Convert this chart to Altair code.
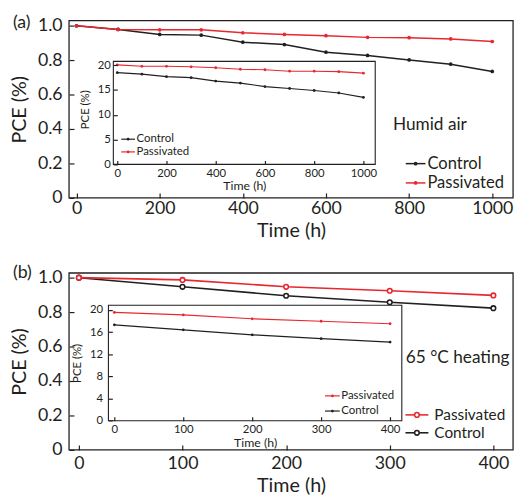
import altair as alt
import pandas as pd

# ---------------- data ----------------
series = ["Control", "Passivated"]
colors = ["#231f20", "#e8272e"]

a_time = [0, 100, 200, 300, 400, 500, 600, 700, 800, 900, 1000]
a_control = [1.0, 0.979, 0.950, 0.946, 0.905, 0.891, 0.847, 0.828, 0.802, 0.777, 0.735]
a_passivated = [1.0, 0.979, 0.977, 0.977, 0.960, 0.950, 0.943, 0.933, 0.931, 0.924, 0.909]
a_inset_control = [18.5, 18.2, 17.7, 17.5, 16.8, 16.4, 15.7, 15.3, 14.9, 14.4, 13.5]
a_inset_passivated = [20.1, 19.8, 19.8, 19.7, 19.5, 19.2, 19.1, 18.8, 18.8, 18.7, 18.4]

b_time = [0, 100, 200, 300, 400]
b_control = [1.0, 0.947, 0.895, 0.857, 0.823]
b_passivated = [1.0, 0.987, 0.947, 0.924, 0.897]
b_inset_control = [17.3, 16.4, 15.5, 14.8, 14.2]
b_inset_passivated = [19.55, 19.1, 18.4, 17.95, 17.5]

a_x_ticks = [0, 200, 400, 600, 800, 1000]
b_x_ticks = [0, 100, 200, 300, 400]
main_y_ticks = [0, 0.2, 0.4, 0.6, 0.8, 1.0]
a_inset_y_ticks = [0, 5, 10, 15, 20]
b_inset_y_ticks = [0, 4, 8, 12, 16, 20]

# scale domains (frame extents) and pixel ranges inside the single view
A_XD, A_YD = [-18, 1050], [0, 1.03]
B_XD, B_YD = [-9.5, 419], [0, 1.027]
AI_XD, AI_YD = [-16, 1048], [-0.06, 20.8]
BI_XD, BI_YD = [-8.6, 417], [0, 20.85]

W, H = 451, 436
A_XR, A_YR = [0, 451], [180, 0]
B_XR, B_YR = [0, 451], [436, 256.3]
AI_XR, AI_YR = [45, 311], [146, 41.3]
BI_XR, BI_YR = [40, 338], [406.3, 289]

FONT = "Lato"
INK = "#231f20"
color_scale = alt.Scale(domain=series, range=colors)


def long_df(t, c, p):
    return pd.DataFrame({
        "time": t + t,
        "pce": c + p,
        "series": ["Control"] * len(t) + ["Passivated"] * len(t),
    })


def axis(values, orient, offset, tick, lpad, tpad, title, lsize, tsize, expr=None, fmt=None, title_y=None):
    kw = dict(values=values, orient=orient, offset=offset, tickSize=tick,
              labelPadding=lpad, titlePadding=tpad, title=title,
              labelFontSize=lsize, titleFontSize=tsize, domain=False, grid=False,
              tickColor=INK, tickWidth=1.2, labelColor=INK, titleColor=INK,
              labelFont=FONT, titleFont=FONT, titleFontWeight="normal",
              labelFlush=False, labelOverlap=False, zindex=2)
    if expr:
        kw["labelExpr"] = expr
    if fmt:
        kw["format"] = fmt
    if title_y is not None:
        kw["titleY"] = title_y
    return alt.Axis(**kw)


def panel(df, xd, xr, yd, yr, xaxis, yaxis, frame_w, line_w, point_mark):
    xs = alt.Scale(domain=xd, range=xr, nice=False, zero=False)
    ys = alt.Scale(domain=yd, range=yr, nice=False, zero=False)
    frame = pd.DataFrame({"time": [xd[0]], "time2": [xd[1]], "pce": [yd[0]], "pce2": [yd[1]]})
    rect = alt.Chart(frame).mark_rect(fill="white", stroke=INK, strokeWidth=frame_w).encode(
        x=alt.X("time:Q", scale=xs, axis=xaxis), x2="time2:Q",
        y=alt.Y("pce:Q", scale=ys, axis=yaxis), y2="pce2:Q")
    enc = dict(
        x=alt.X("time:Q", scale=xs, axis=xaxis),
        y=alt.Y("pce:Q", scale=ys, axis=yaxis),
        color=alt.Color("series:N", scale=color_scale, legend=None),
        detail="series:N",
    )
    lines = alt.Chart(df).mark_line(strokeWidth=line_w).encode(**enc)
    pts = alt.Chart(df).mark_point(**point_mark).encode(**enc)
    return alt.layer(rect, lines, pts)


yexpr = "datum.value == 0 ? '0' : format(datum.value, '.1f')"

main_a = panel(
    long_df(a_time, a_control, a_passivated), A_XD, A_XR, A_YD, A_YR,
    axis(a_x_ticks, "bottom", (A_YR[0] - 5) - H, 5, 2, 3, "Time (h)", 18, 20, fmt="d"),
    axis(main_y_ticks, "left", -5, 5, 7, 8, "PCE (%)", 18, 20, yexpr),
    1.3, 1.5, dict(filled=True, size=14, opacity=1))

inset_a = panel(
    long_df(a_time, a_inset_control, a_inset_passivated), AI_XD, AI_XR, AI_YD, AI_YR,
    axis(a_x_ticks, "bottom", (AI_YR[0] - 4) - H, 4, 3, 1, "Time (h)", 11.5, 12.5, fmt="d"),
    axis(a_inset_y_ticks, "left", -(AI_XR[0] + 4), 4, 3, 7, "PCE (%)", 11.5, 11.5, fmt="d", title_y=90),
    1.1, 1.2, dict(filled=True, size=8, opacity=1))

main_b = panel(
    long_df(b_time, b_control, b_passivated), B_XD, B_XR, B_YD, B_YR,
    axis(b_x_ticks, "bottom", -5, 5, 5, 3, "Time (h)", 18, 20, fmt="d"),
    axis(main_y_ticks, "left", -5, 5, 7, 8, "PCE (%)", 18, 20, yexpr),
    1.3, 1.6, dict(filled=False, fill="white", size=22, strokeWidth=1.6, opacity=1))

inset_b = panel(
    long_df(b_time, b_inset_control, b_inset_passivated), BI_XD, BI_XR, BI_YD, BI_YR,
    axis(b_x_ticks, "bottom", (BI_YR[0] - 4) - H, 4, 3.5, 1, "Time (h)", 11.5, 12.5, fmt="d"),
    axis(b_inset_y_ticks, "left", -(BI_XR[0] + 4), 4, 6, 7, "PCE (%)", 11.5, 11.5, fmt="d"),
    1.1, 1.2, dict(filled=True, size=8, opacity=1))

one = alt.Data(values=[{}])


def legend_entry(x1, x2, y, label, color, fsize, lw, point_kw, gap):
    base = alt.Chart(one)
    rule = base.mark_rule(color=color, strokeWidth=lw).encode(
        x=alt.value(x1), x2=alt.value(x2), y=alt.value(y))
    dot = base.mark_point(color=color, opacity=1, **point_kw).encode(
        x=alt.value((x1 + x2) / 2), y=alt.value(y))
    txt = base.mark_text(align="left", baseline="middle", font=FONT, fontSize=fsize,
                         color=INK, text=label).encode(x=alt.value(x2 + gap), y=alt.value(y))
    return [rule, dot, txt]


legends = []
# main (a)
legends += legend_entry(342, 362, 145.2, "Control", colors[0], 16.8, 1.5, dict(filled=True, size=14), 2)
legends += legend_entry(342, 362, 164.8, "Passivated", colors[1], 16.8, 1.5, dict(filled=True, size=14), 2)
# inset (a)
legends += legend_entry(53, 67, 120.4, "Control", colors[0], 11.6, 1.2, dict(filled=True, size=8), 1.5)
legends += legend_entry(53, 67, 133.3, "Passivated", colors[1], 11.6, 1.2, dict(filled=True, size=8), 1.5)
# main (b)
legends += legend_entry(341.7, 365, 400.4, "Passivated", colors[1], 15.6, 1.6,
                        dict(filled=False, fill="white", size=22, strokeWidth=1.6), 6)
legends += legend_entry(341.7, 365, 418.6, "Control", colors[0], 15.6, 1.6,
                        dict(filled=False, fill="white", size=22, strokeWidth=1.6), 6)
# inset (b)
legends += legend_entry(260, 275, 381.1, "Passivated", colors[1], 11.6, 1.2, dict(filled=True, size=8), 1.5)
legends += legend_entry(260, 275, 396.5, "Control", colors[0], 11.6, 1.2, dict(filled=True, size=8), 1.5)


def label(x, y, text, size):
    return alt.Chart(one).mark_text(align="left", baseline="middle", font=FONT, fontSize=size,
                                    color=INK, text=text).encode(x=alt.value(x), y=alt.value(y))


texts = [
    label(-57, 2, "(a)", 18),
    label(-57, 256, "(b)", 18),
    label(329, 106, "Humid air", 17.5),
    label(342, 343, "65 °C heating", 17.5),
]

chart = alt.layer(main_a, inset_a, main_b, inset_b, *legends, *texts).resolve_scale(
    x="independent", y="independent"
).properties(
    width=W, height=H,
    autosize=alt.AutoSizeParams(type="none"),
    padding={"left": 62, "top": 9, "right": 4, "bottom": 48},
).configure_view(stroke=None)

chart.save("out.html", embed_options={"renderer": "svg", "actions": False})
